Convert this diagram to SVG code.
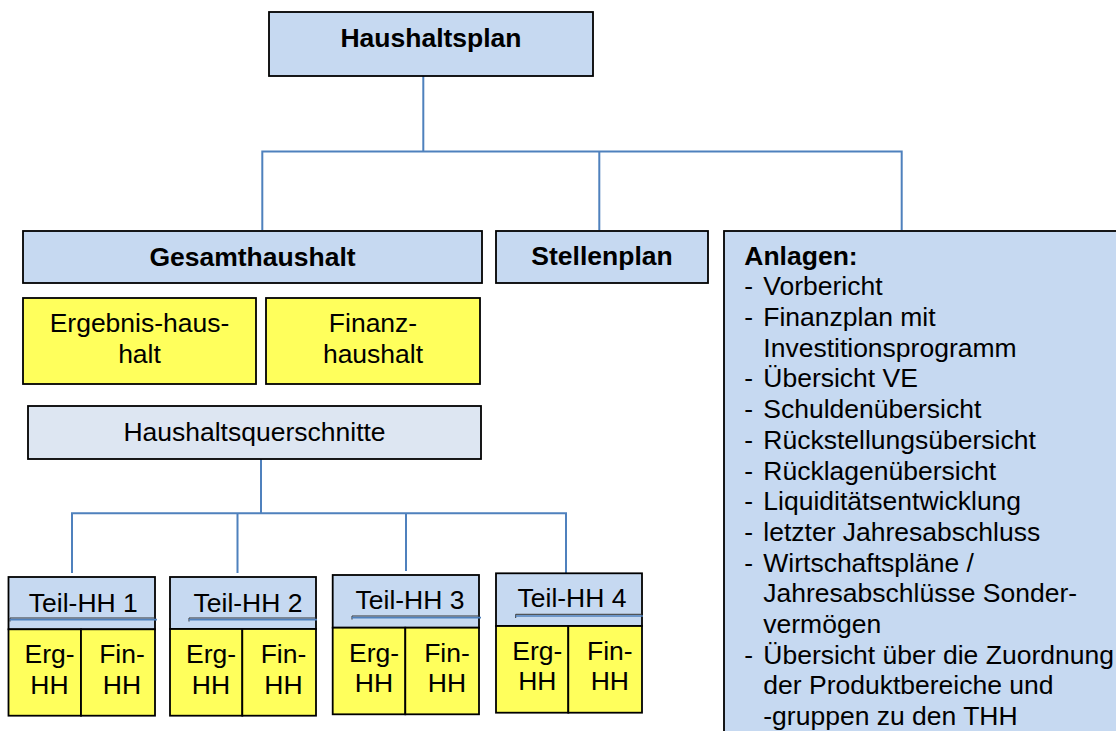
<svg xmlns="http://www.w3.org/2000/svg" width="1116" height="731" viewBox="0 0 1116 731">
<style>
.box{fill:#C6D9F1;stroke:#000;stroke-width:1.8}
.light{fill:#DDE6F2;stroke:#000;stroke-width:1.8}
.yel{fill:#FFFF5C;stroke:#000;stroke-width:1.8}
.con{stroke:#4F81BD;stroke-width:2;fill:none}
.t{font-family:"Liberation Sans",Arial,sans-serif;font-size:26.5px;fill:#000}
.b{font-weight:bold}
.c{text-anchor:middle}
.ul{stroke:#4F81BD;stroke-width:1.6;fill:none}
.uld{stroke:#333;stroke-width:1;fill:none}
</style>
<rect width="1116" height="731" fill="#fff"/>
<g id="connectors">
<path class="con" d="M423.3 76 V151.5 M262.3 230 V151.5 H901.7 V230 M599.3 151.5 V230"/>
<path class="con" d="M261 459 V513.3 M72 573 V513.3 H566 V573 M237.5 513.3 V573 M406 513.3 V571"/>
</g>
<g id="haushaltsplan">
<rect class="box" x="269" y="12" width="324" height="64"/>
<text class="t b c" x="431" y="47">Haushaltsplan</text>
</g>
<g id="gesamthaushalt">
<rect class="box" x="23" y="231" width="459" height="52"/>
<text class="t b c" x="252.5" y="265.5">Gesamthaushalt</text>
</g>
<g id="stellenplan">
<rect class="box" x="496" y="231" width="212" height="52"/>
<text class="t b c" x="602" y="265">Stellenplan</text>
</g>
<g id="anlagen">
<rect class="box" x="724" y="231" width="400" height="510"/>
<text class="t b" x="744.3" y="264.6">Anlagen:</text>
<g class="t">
<text x="744.3" y="295.3">-</text><text x="763.3" y="295.3">Vorbericht</text>
<text x="744.3" y="326">-</text><text x="763.3" y="326">Finanzplan mit</text>
<text x="763.3" y="356.7">Investitionsprogramm</text>
<text x="744.3" y="387.4">-</text><text x="763.3" y="387.4">Übersicht VE</text>
<text x="744.3" y="418.1">-</text><text x="763.3" y="418.1">Schuldenübersicht</text>
<text x="744.3" y="448.8">-</text><text x="763.3" y="448.8">Rückstellungsübersicht</text>
<text x="744.3" y="479.5">-</text><text x="763.3" y="479.5">Rücklagenübersicht</text>
<text x="744.3" y="510.2">-</text><text x="763.3" y="510.2">Liquiditätsentwicklung</text>
<text x="744.3" y="540.9">-</text><text x="763.3" y="540.9">letzter Jahresabschluss</text>
<text x="744.3" y="571.6">-</text><text x="763.3" y="571.6">Wirtschaftspläne /</text>
<text x="763.3" y="602.3">Jahresabschlüsse Sonder-</text>
<text x="763.3" y="633">vermögen</text>
<text x="744.3" y="663.7">-</text><text x="763.3" y="663.7">Übersicht über die Zuordnung</text>
<text x="763.3" y="694.4">der Produktbereiche und</text>
<text x="763.3" y="725.1">-gruppen zu den THH</text>
</g>
</g>
<g id="ergebnishaushalt">
<rect class="yel" x="23" y="298" width="233" height="86"/>
<text class="t c" x="139.5" y="332.3">Ergebnis-haus-</text>
<text class="t c" x="139.5" y="363.3">halt</text>
</g>
<g id="finanzhaushalt">
<rect class="yel" x="266" y="298" width="214" height="86"/>
<text class="t c" x="373" y="332.3">Finanz-</text>
<text class="t c" x="373" y="363.3">haushalt</text>
</g>
<g id="querschnitte">
<rect class="light" x="28" y="406" width="453" height="53"/>
<text class="t c" x="254.5" y="441">Haushaltsquerschnitte</text>
</g>
<g id="teil-hh-1">
<rect class="box" x="8.5" y="577" width="146.5" height="52.3"/>
<rect class="yel" x="8.5" y="629.3" width="72.5" height="86.4"/>
<rect class="yel" x="81" y="629.3" width="74" height="86.4"/>
<path class="uld" d="M10 621.5 V618 H155"/>
<line class="ul" x1="10" y1="619.6" x2="157" y2="619.6"/>
<text class="t c" x="83.3" y="611.7">Teil-HH 1</text>
<text class="t c" x="49.5" y="663.3">Erg-</text><text class="t c" x="49.5" y="694.3">HH</text>
<text class="t c" x="122" y="663.3">Fin-</text><text class="t c" x="122" y="694.3">HH</text>
</g>
<g id="teil-hh-2">
<rect class="box" x="170" y="577" width="146" height="52"/>
<rect class="yel" x="170" y="629" width="72.3" height="86.7"/>
<rect class="yel" x="242.3" y="629" width="73.7" height="86.7"/>
<path class="uld" d="M189 621.5 V618 H316"/>
<line class="ul" x1="189" y1="619.6" x2="317" y2="619.6"/>
<text class="t c" x="248" y="611.7">Teil-HH 2</text>
<text class="t c" x="211" y="663.3">Erg-</text><text class="t c" x="211" y="694.3">HH</text>
<text class="t c" x="283.5" y="663.3">Fin-</text><text class="t c" x="283.5" y="694.3">HH</text>
</g>
<g id="teil-hh-3">
<rect class="box" x="332.7" y="575" width="146.3" height="52.7"/>
<rect class="yel" x="332.7" y="627.7" width="72.6" height="86.6"/>
<rect class="yel" x="405.3" y="627.7" width="73.7" height="86.6"/>
<path class="uld" d="M352 619.5 V616 H479"/>
<line class="ul" x1="352" y1="617.6" x2="481" y2="617.6"/>
<text class="t c" x="410" y="609.3">Teil-HH 3</text>
<text class="t c" x="374" y="661.7">Erg-</text><text class="t c" x="374" y="691.7">HH</text>
<text class="t c" x="447" y="661.7">Fin-</text><text class="t c" x="447" y="691.7">HH</text>
</g>
<g id="teil-hh-4">
<rect class="box" x="496" y="573.3" width="146" height="52.7"/>
<rect class="yel" x="496" y="626" width="72.3" height="86.7"/>
<rect class="yel" x="568.3" y="626" width="73.7" height="86.7"/>
<path class="uld" d="M515.7 618 V614.3 H642"/>
<line class="ul" x1="515.7" y1="616" x2="643" y2="616"/>
<text class="t c" x="572" y="606.7">Teil-HH 4</text>
<text class="t c" x="537.3" y="660">Erg-</text><text class="t c" x="537.3" y="690">HH</text>
<text class="t c" x="609.8" y="660">Fin-</text><text class="t c" x="609.8" y="690">HH</text>
</g>
</svg>
